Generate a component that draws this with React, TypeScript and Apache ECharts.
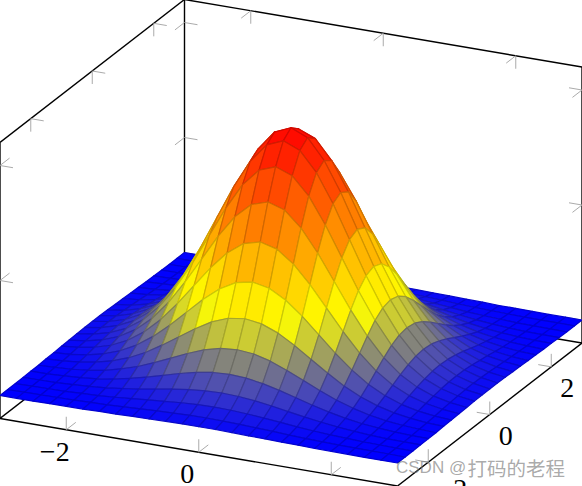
import React, { useEffect, useRef } from "react";
import * as echarts from "echarts";

const xSamples = [-3,-2.75,-2.5,-2.25,-2,-1.75,-1.5,-1.25,-1,-0.75,-0.5,-0.25,0,0.25,0.5,0.75,1,1.25,1.5,1.75,2,2.25,2.5,2.75,3];
const ySamples = [-3,-2.75,-2.5,-2.25,-2,-1.75,-1.5,-1.25,-1,-0.75,-0.5,-0.25,0,0.25,0.5,0.75,1,1.25,1.5,1.75,2,2.25,2.5,2.75,3];
const zThousandths = [
  [0,0,0,1,2,2,4,5,7,8,10,11,11,11,10,8,7,5,4,2,2,1,0,0,0],
  [0,1,1,2,3,5,7,10,14,17,20,22,23,22,20,17,14,10,7,5,3,2,1,1,0],
  [0,1,2,3,6,9,14,20,27,33,39,43,44,43,39,33,27,20,14,9,6,3,2,1,0],
  [1,2,3,6,11,17,26,36,48,60,70,77,80,77,70,60,48,36,26,17,11,6,3,2,1],
  [2,3,6,11,18,29,44,62,82,102,119,131,135,131,119,102,82,62,44,29,18,11,6,3,2],
  [2,5,9,17,29,47,70,99,131,163,191,210,216,210,191,163,131,99,70,47,29,17,9,5,2],
  [4,7,14,26,44,70,105,149,197,245,287,315,325,315,287,245,197,149,105,70,44,26,14,7,4],
  [5,10,20,36,62,99,149,210,278,346,404,444,458,444,404,346,278,210,149,99,62,36,20,10,5],
  [7,14,27,48,82,131,197,278,368,458,535,588,607,588,535,458,368,278,197,131,82,48,27,14,7],
  [8,17,33,60,102,163,245,346,458,570,666,732,755,732,666,570,458,346,245,163,102,60,33,17,8],
  [10,20,39,70,119,191,287,404,535,666,779,855,882,855,779,666,535,404,287,191,119,70,39,20,10],
  [11,22,43,77,131,210,315,444,588,732,855,939,969,939,855,732,588,444,315,210,131,77,43,22,11],
  [11,23,44,80,135,216,325,458,607,755,882,969,1000,969,882,755,607,458,325,216,135,80,44,23,11],
  [11,22,43,77,131,210,315,444,588,732,855,939,969,939,855,732,588,444,315,210,131,77,43,22,11],
  [10,20,39,70,119,191,287,404,535,666,779,855,882,855,779,666,535,404,287,191,119,70,39,20,10],
  [8,17,33,60,102,163,245,346,458,570,666,732,755,732,666,570,458,346,245,163,102,60,33,17,8],
  [7,14,27,48,82,131,197,278,368,458,535,588,607,588,535,458,368,278,197,131,82,48,27,14,7],
  [5,10,20,36,62,99,149,210,278,346,404,444,458,444,404,346,278,210,149,99,62,36,20,10,5],
  [4,7,14,26,44,70,105,149,197,245,287,315,325,315,287,245,197,149,105,70,44,26,14,7,4],
  [2,5,9,17,29,47,70,99,131,163,191,210,216,210,191,163,131,99,70,47,29,17,9,5,2],
  [2,3,6,11,18,29,44,62,82,102,119,131,135,131,119,102,82,62,44,29,18,11,6,3,2],
  [1,2,3,6,11,17,26,36,48,60,70,77,80,77,70,60,48,36,26,17,11,6,3,2,1],
  [0,1,2,3,6,9,14,20,27,33,39,43,44,43,39,33,27,20,14,9,6,3,2,1,0],
  [0,1,1,2,3,5,7,10,14,17,20,22,23,22,20,17,14,10,7,5,3,2,1,1,0],
  [0,0,0,1,2,2,4,5,7,8,10,11,11,11,10,8,7,5,4,2,2,1,0,0,0],
];
const xTicks = [-2, 0, 2];
const yTicks = [-2, 0, 2];
const zTicks = [0, 0.5, 1];
const xTickLabels = ["\u22122", "0"];
const yTickLabels = ["\u22122", "0", "2"];
const watermarkLatin = "CSDN @";
const watermarkCjk = "打码的老程";

const W = 582, H = 486;
const X0 = -3, X1 = 3, Y0 = -3, Y1 = 3, Z0 = -0.1, Z1 = 1.1;
function project(x: number, y: number, z: number): [number, number] {
  const u = (x - X0) / (X1 - X0), v = (y - Y0) / (Y1 - Y0), w = (z - Z0) / (Z1 - Z0);
  return [397.5 * u + 184.5 * v, 418.5 + 67.5 * u - 143 * v - 276 * w];
}
function lerp(a: number[], b: number[], t: number) {
  return a.map((c, i) => c + (b[i] - c) * t);
}
const YELLOW_AT = 1 / 3;
function mapped(t: number): number[] {
  const blue = [0, 0, 255], yellow = [255, 255, 0], red = [255, 0, 0];
  return t < YELLOW_AT ? lerp(blue, yellow, t / YELLOW_AT) : lerp(yellow, red, (t - YELLOW_AT) / (1 - YELLOW_AT));
}
const css = (c: number[]) => `rgb(${c.map(Math.round).join(",")})`;

type Seg = { a: number[]; b: number[]; kind: "box" | "tick" };
const segments: Seg[] = [];
const box = (a: number[], b: number[]) => segments.push({ a, b, kind: "box" });
box([X0, Y0, Z0], [X1, Y0, Z0]);
box([X1, Y0, Z0], [X1, Y1, Z0]);
box([X0, Y0, Z0], [X0, Y1, Z0]);
box([X0, Y1, Z0], [X1, Y1, Z0]);
box([X0, Y0, Z0], [X0, Y0, Z1]);
box([X0, Y1, Z0], [X0, Y1, Z1]);
box([X1, Y1, Z0], [X1, Y1, Z1]);
box([X0, Y0, Z1], [X0, Y1, Z1]);
box([X0, Y1, Z1], [X1, Y1, Z1]);
const TX = 0.196, TY = 0.31, TZ = 0.0565;
const tick = (p: number[], dx: number, dy: number, dz: number) =>
  segments.push({ a: p, b: [p[0] + dx, p[1] + dy, p[2] + dz], kind: "tick" });
xTicks.forEach((v) => {
  tick([v, Y1, Z1], 0, 0, -TZ); tick([v, Y1, Z1], 0, -TY, 0);
  tick([v, Y0, Z0], 0, 0, TZ); tick([v, Y0, Z0], 0, TY, 0);
});
yTicks.forEach((v) => {
  tick([X0, v, Z1], TX, 0, 0); tick([X0, v, Z1], 0, 0, -TZ);
  tick([X1, v, Z0], -TX, 0, 0); tick([X1, v, Z0], 0, 0, TZ);
});
zTicks.forEach((v) => {
  tick([X0, Y1, v], TX, 0, 0); tick([X0, Y1, v], 0, -TY, 0);
  tick([X0, Y0, v], TX, 0, 0); tick([X0, Y0, v], 0, TY, 0);
  tick([X1, Y1, v], -TX, 0, 0); tick([X1, Y1, v], 0, -TY, 0);
});

// facets back to front: high y first, low x first
const facets: number[][] = [];
for (let j = ySamples.length - 2; j >= 0; j--) {
  for (let i = 0; i < xSamples.length - 1; i++) facets.push([i, j]);
}

const labels = [
  ...xTickLabels.map((text, k) => {
    const p = project(xTicks[k], Y0, Z0);
    return { text, x: p[0] - 11.5, y: p[1] + 21.5 };
  }),
  ...yTickLabels.map((text, k) => {
    const p = project(X1, yTicks[k], Z0);
    return { text, x: p[0] + (k === 0 ? 24 : 16), y: p[1] + (k === 0 ? 26 : 20.5) };
  }),
];

export default function App() {
  const ref = useRef<HTMLDivElement>(null);
  useEffect(() => {
    document.body.style.margin = "0";
    const chart = echarts.init(ref.current!, undefined, { renderer: "svg", width: W, height: H });
    chart.setOption({
      animation: false,
      backgroundColor: "#fff",
      grid: { left: 0, right: 0, top: 0, bottom: 0 },
      xAxis: { type: "value", min: 0, max: W, show: false },
      yAxis: { type: "value", min: 0, max: H, inverse: true, show: false },
      graphic: [
        {
          type: "text", x: 396, y: 467, z: 100, silent: true,
          style: {
            text: watermarkLatin, fill: "rgba(115,115,115,0.62)",
            font: '17px "Liberation Sans", sans-serif',
            verticalAlign: "middle",
          },
        },
        {
          type: "text", x: 467.5, y: 467, z: 100, silent: true,
          style: {
            text: watermarkCjk, fill: "rgba(115,115,115,0.62)",
            font: '19.5px "Noto Sans CJK SC", sans-serif',
            verticalAlign: "middle",
          },
        },
      ],
      series: [
        {
          type: "custom", coordinateSystem: "cartesian2d", clip: false, silent: true, z: 1,
          data: segments.map((_, i) => [i]),
          renderItem: (params: any, api: any) => {
            const s = segments[params.dataIndex];
            const p = api.coord(project(s.a[0], s.a[1], s.a[2]));
            const q = api.coord(project(s.b[0], s.b[1], s.b[2]));
            return {
              type: "line",
              shape: { x1: p[0], y1: p[1], x2: q[0], y2: q[1] },
              style: s.kind === "box"
                ? { stroke: "#000", lineWidth: 1.4, fill: "none" }
                : { stroke: "#a0a0a0", lineWidth: 0.9, fill: "none" },
            };
          },
        },
        {
          type: "custom", coordinateSystem: "cartesian2d", clip: false, silent: true, z: 2,
          data: facets,
          renderItem: (params: any, api: any) => {
            const [i, j] = facets[params.dataIndex];
            const corners = [[i, j], [i + 1, j], [i + 1, j + 1], [i, j + 1]];
            const zs = corners.map(([a, b]) => zThousandths[b][a] / 1000);
            const pts = corners.map(([a, b], k) => api.coord(project(xSamples[a], ySamples[b], zs[k])));
            const mean = zs.reduce((s, v) => s + v, 0) / 4;
            const c = mapped(mean);
            return {
              type: "polygon",
              shape: { points: pts },
              style: { fill: css(c), stroke: css(c.map((v) => v * 0.82)), lineWidth: 1.2, lineJoin: "round" },
            };
          },
        },
        {
          type: "custom", coordinateSystem: "cartesian2d", clip: false, silent: true, z: 3,
          data: labels.map((_, i) => [i]),
          renderItem: (params: any, api: any) => {
            const l = labels[params.dataIndex];
            const p = api.coord([l.x, l.y]);
            return {
              type: "text", x: p[0], y: p[1],
              style: {
                text: l.text, fill: "#000", font: '28px "Liberation Serif", serif',
                align: "center", verticalAlign: "middle",
              },
            };
          },
        },
      ],
    });
    return () => chart.dispose();
  }, []);
  return <div ref={ref} style={{ width: W, height: H, overflow: "hidden", position: "absolute", left: 0, top: 0 }} />;
}
